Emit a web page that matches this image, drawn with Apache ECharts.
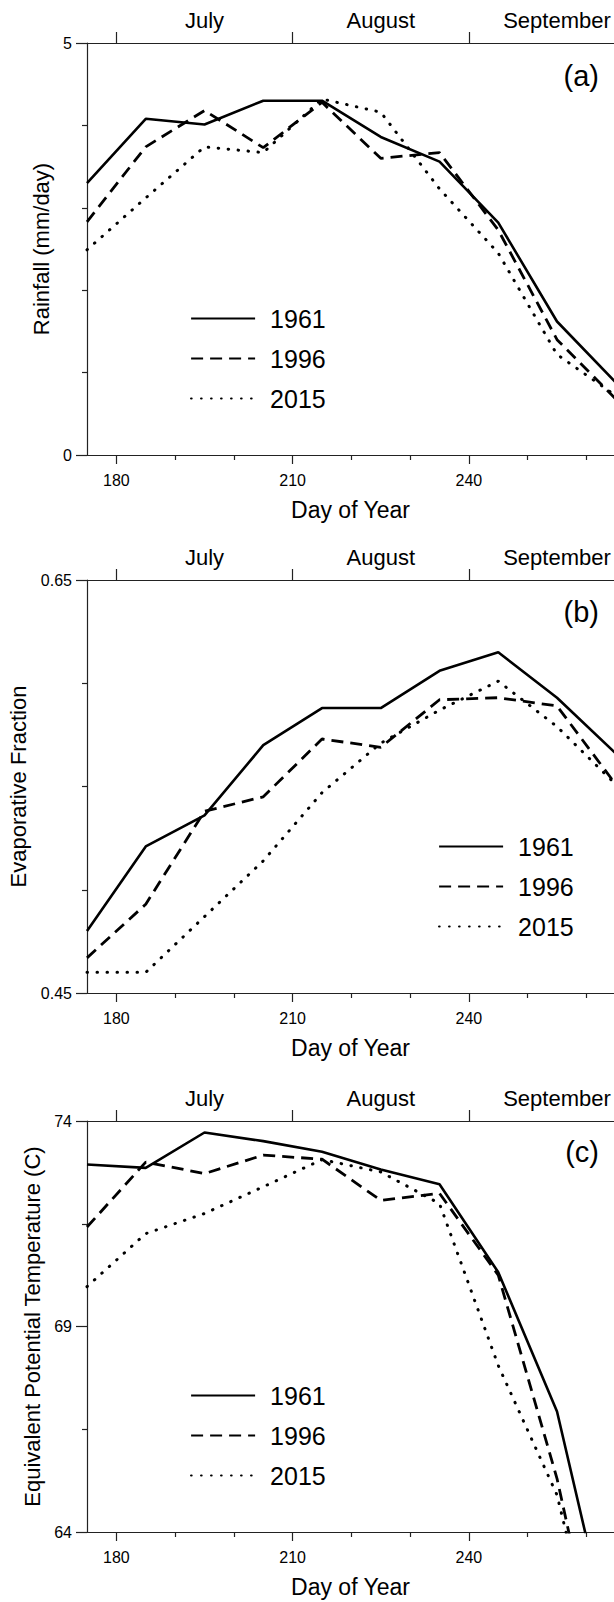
<!DOCTYPE html>
<html><head><meta charset="utf-8">
<script src="https://cdn.jsdelivr.net/npm/echarts@6/dist/echarts.min.js"></script>
<style>html,body{margin:0;padding:0;background:#fff}#c{width:614px;height:1602px}</style>
</head><body><div id="c"></div>
<script>
// ---------- data ----------
const days = [175, 185, 195, 205, 215, 225, 235, 245, 255, 265];
const years = ['1961', '1996', '2015'];

const rain1961 = [3.30, 4.08, 4.01, 4.30, 4.30, 3.86, 3.56, 2.82, 1.62, 0.88];
const rain1996 = [2.83, 3.74, 4.18, 3.73, 4.28, 3.60, 3.67, 2.73, 1.40, 0.68];
const rain2015 = [2.49, 3.12, 3.74, 3.67, 4.32, 4.16, 3.23, 2.45, 1.22, 0.72];

const ef1961 = [0.480, 0.521, 0.536, 0.570, 0.588, 0.588, 0.606, 0.615, 0.593, 0.566];
const ef1996 = [0.467, 0.493, 0.538, 0.545, 0.573, 0.569, 0.592, 0.593, 0.589, 0.551];
const ef2015 = [0.460, 0.460, 0.487, 0.514, 0.547, 0.571, 0.587, 0.601, 0.579, 0.551];

const te1961 = [72.94, 72.86, 73.72, 73.51, 73.25, 72.82, 72.46, 70.32, 66.93, 60.8];
const te1996 = [71.42, 73.00, 72.72, 73.17, 73.07, 72.07, 72.24, 70.25, 65.30, 58.8];
const te2015 = [69.97, 71.26, 71.75, 72.40, 73.06, 72.76, 71.99, 68.05, 64.90, 59.0];

const dayMajorTicks = [180, 210, 240];
const dayMinorTicks = [190, 200, 220, 230, 250, 260];
const monthTicks = [180, 210, 240];
const monthCenters = [195, 225, 255];
const monthNames = ['July', 'August', 'September'];

const rainMajor = [0, 5], rainMinor = [1, 2, 3, 4];
const efMajor = [0.45, 0.65], efMinor = [0.5, 0.55, 0.6];
const teMajor = [64, 69, 74], teMinor = [66.5, 71.5];

// ---------- layout / styles ----------
const FONT = '"Liberation Sans", Arial, Helvetica, sans-serif';
const INK = '#000';
const AX = '#222';
const xMin = 175, xMax = 264.7;

const panels = [
  { tag: '(a)', yName: 'Rainfall (mm/day)', min: 0, max: 5, major: rainMajor, minor: rainMinor,
    values: [rain1961, rain1996, rain2015],
    top: 43, height: 412, nameGap: 32, legendLeft: 190, legendTop: 306, tagTop: 61 },
  { tag: '(b)', yName: 'Evaporative Fraction', min: 0.45, max: 0.65, major: efMajor, minor: efMinor,
    values: [ef1961, ef1996, ef2015],
    top: 580, height: 413, nameGap: 57, legendLeft: 438, legendTop: 834, tagTop: 597 },
  { tag: '(c)', yName: 'Equivalent Potential Temperature (C)', min: 64, max: 74, major: teMajor, minor: teMinor,
    values: [te1961, te1996, te2015],
    top: 1121, height: 411, nameGap: 42, legendLeft: 190, legendTop: 1383, tagTop: 1137 }
];

const lineStyles = [
  { color: INK, width: 2.6, type: 'solid' },
  { color: INK, width: 2.8, type: [12, 7] },
  { color: INK, width: 3, type: [0.5, 9.5], cap: 'round' }
];

const option = {
  animation: false,
  backgroundColor: '#fff',
  textStyle: { fontFamily: FONT, color: INK },
  grid: [], xAxis: [], yAxis: [], series: [], legend: [], title: []
};

panels.forEach((p, i) => {
  option.grid.push({ left: 87, right: 0, top: p.top, height: p.height, containLabel: false, outerBoundsMode: 'none' });
  const xb = option.xAxis.length;
  option.xAxis.push({
    type: 'value', gridIndex: i, position: 'bottom', min: xMin, max: xMax,
    axisLine: { show: true, onZero: false, lineStyle: { color: AX, width: 1.2 } },
    axisTick: { show: true, customValues: dayMajorTicks, length: 9, lineStyle: { color: AX, width: 1.2 } },
    axisLabel: { show: true, customValues: dayMajorTicks, margin: 17, fontSize: 16, color: INK, fontFamily: FONT },
    splitLine: { show: false },
    name: 'Day of Year', nameLocation: 'middle', nameGap: 43,
    nameTextStyle: { fontSize: 23, color: INK, fontFamily: FONT }
  });
  option.xAxis.push({
    type: 'value', gridIndex: i, position: 'bottom', min: xMin, max: xMax,
    axisLine: { show: false, onZero: false },
    axisTick: { show: true, customValues: dayMinorTicks, length: 5, lineStyle: { color: AX, width: 1.2 } },
    axisLabel: { show: false }, splitLine: { show: false }
  });
  option.xAxis.push({
    type: 'value', gridIndex: i, position: 'top', min: xMin, max: xMax,
    axisLine: { show: true, onZero: false, lineStyle: { color: AX, width: 1.2 } },
    axisTick: { show: true, customValues: monthTicks, length: 11, lineStyle: { color: AX, width: 1.2 } },
    axisLabel: {
      show: true, customValues: monthCenters, margin: 12, fontSize: 22, color: INK, fontFamily: FONT,
      formatter: v => monthNames[monthCenters.indexOf(v)] || ''
    },
    splitLine: { show: false }
  });
  const yb = option.yAxis.length;
  option.yAxis.push({
    type: 'value', gridIndex: i, position: 'left', min: p.min, max: p.max,
    axisLine: { show: true, onZero: false, lineStyle: { color: AX, width: 1.2 } },
    axisTick: { show: true, customValues: p.major, length: 11, lineStyle: { color: AX, width: 1.2 } },
    axisLabel: { show: true, customValues: p.major, margin: 15, fontSize: 16, color: INK, fontFamily: FONT },
    splitLine: { show: false },
    name: p.yName, nameLocation: 'middle', nameGap: p.nameGap,
    nameTextStyle: { fontSize: 22, color: INK, fontFamily: FONT }
  });
  option.yAxis.push({
    type: 'value', gridIndex: i, position: 'left', min: p.min, max: p.max,
    axisLine: { show: false, onZero: false },
    axisTick: { show: true, customValues: p.minor, length: 5, lineStyle: { color: AX, width: 1.2 } },
    axisLabel: { show: false }, splitLine: { show: false }
  });
  years.forEach((y, k) => {
    option.series.push({
      type: 'line', name: y, xAxisIndex: xb, yAxisIndex: yb,
      data: days.map((d, j) => [d, p.values[k][j]]),
      symbol: 'none', showSymbol: false, clip: true, silent: true,
      lineStyle: lineStyles[k], itemStyle: { color: INK }
    });
  });
  option.legend.push({
    orient: 'vertical', left: p.legendLeft, top: p.legendTop, padding: 0,
    itemWidth: 64, itemHeight: 25, itemGap: 15, selectedMode: false,
    data: years,
    itemStyle: { opacity: 0, borderWidth: 0 },
    lineStyle: { width: 2.2 },
    textStyle: { fontSize: 25, color: INK, fontFamily: FONT, padding: [0, 0, 0, 10] }
  });
  option.title.push({
    text: p.tag, right: 15, top: p.tagTop, padding: 0,
    textStyle: { fontSize: 29, fontWeight: 'normal', color: INK, fontFamily: FONT }
  });
});

const chart = echarts.init(document.getElementById('c'), null, { renderer: 'svg', width: 614, height: 1602 });
chart.setOption(option);
</script>
</body></html>
